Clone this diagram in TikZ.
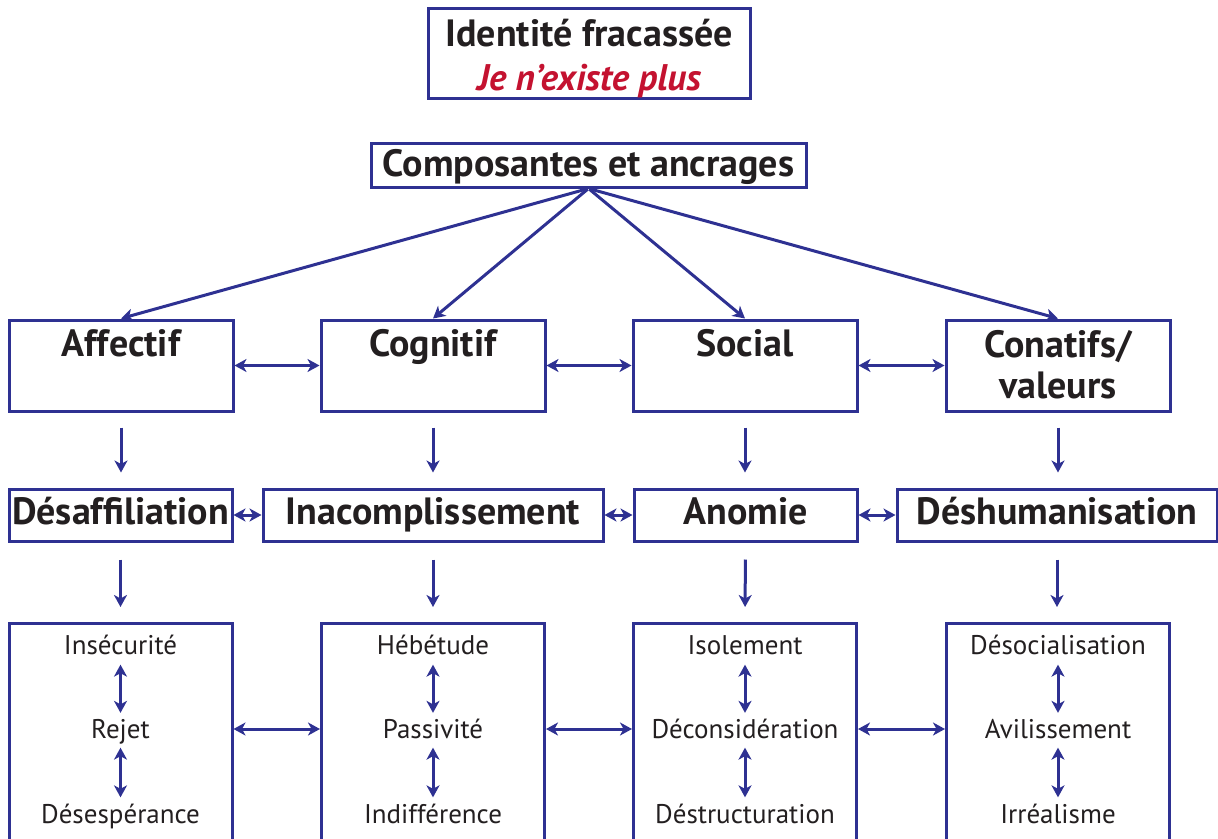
\documentclass[tikz,border=0pt]{standalone}
\usepackage{fontspec}
\setmainfont{PT Sans}
\usetikzlibrary{arrows.meta}
\definecolor{lineblue}{HTML}{2E3192}
\definecolor{ink}{HTML}{231F20}
\definecolor{accentred}{HTML}{C41230}
\tikzset{
  box/.style={draw=lineblue, line width=3pt, rectangle, inner sep=0pt, fill=white},
  % node centres sit on the middle of the capitals
  head/.style={font=\fontsize{38}{43}\selectfont\bfseries, text=ink, inner sep=0pt, text height=26.6pt, text depth=0pt},
  item/.style={font=\fontsize{27}{30}\selectfont, text=ink, inner sep=0pt, text height=18.9pt, text depth=0pt},
  tip/.style={Stealth[length=12pt, width=13pt, inset=3.5pt]},
  link/.style={draw=lineblue, line width=3pt, -{Stealth[length=12pt, width=13pt, inset=3.5pt]}},
  duo/.style={draw=lineblue, line width=3pt, {Stealth[length=12pt, width=13pt, inset=3.5pt]}-{Stealth[length=12pt, width=13pt, inset=3.5pt]}},
}
\begin{document}
\begin{tikzpicture}[x=1pt, y=-1pt]
\useasboundingbox (0,0) rectangle (1218,838);
\clip (0,0) rectangle (1218,838);

% title
\node[box, minimum width=322pt, minimum height=90pt] (title) at (589,53) {};
\node[head] (titleA) at (589,33) {Identité fracassée};
\node[font=\fontsize{37}{43}\selectfont\bfseries\itshape, text=accentred, inner sep=0pt, text height=25.9pt, text depth=0pt] (titleB) at (589,77.5) {Je n’existe plus};

% root
\node[box, minimum width=435pt, minimum height=44pt] (root) at (588.5,165) {};
\node[head] (rootT) at (588.5,163) {Composantes et ancrages};

% first row: components
\foreach \n/\x in {aff/121, cog/433, soc/745, con/1058}{
  \node[box, minimum width=224pt, minimum height=91pt] (\n) at (\x,365.5) {};
}
\node[head] (affT) at (121,343) {Affectif};
\node[head] (cogT) at (433,343) {Cognitif};
\node[head] (socT) at (745,343) {Social};
\node[head] (conT) at (1058,344) {Conatifs/};
\node[head] (conU) at (1058,384.7) {valeurs};

% second row
\node[box, minimum width=223pt, minimum height=52pt] (desa) at (120.5,515) {};
\node[box, minimum width=340pt, minimum height=52pt] (inac) at (433,515) {};
\node[box, minimum width=223pt, minimum height=52pt] (anom) at (745.5,515) {};
\node[box, minimum width=320pt, minimum height=52pt] (desh) at (1057,515) {};
\node[head] (desaT) at (120.5,511) {Désaffiliation};
\node[head] (inacT) at (433,511) {Inacomplissement};
\node[head] (anomT) at (745.5,511) {Anomie};
\node[head] (deshT) at (1057,511) {Déshumanisation};

% third row (boxes run past the lower edge)
\foreach \n/\x in {ba/120.5, bb/433, bc/745, bd/1058}{
  \node[box, minimum width=223pt, minimum height=300pt, anchor=north] (\n) at (\x,622) {};
}
\node[item] (a1) at (120.5,645) {Insécurité};
\node[item] (a2) at (120.5,729) {Rejet};
\node[item] (a3) at (120.5,814) {Désespérance};
\node[item] (b1) at (433,645) {Hébétude};
\node[item] (b2) at (433,729) {Passivité};
\node[item] (b3) at (433,814) {Indifférence};
\node[item] (c1) at (745,645) {Isolement};
\node[item] (c2) at (745,729) {Déconsidération};
\node[item] (c3) at (745,814) {Déstructuration};
\node[item] (d1) at (1058,645) {Désocialisation};
\node[item] (d2) at (1058,729) {Avilissement};
\node[item] (d3) at (1058,814) {Irréalisme};

% root to components
\foreach \n in {aff, cog, soc, con}{
  \draw[link, shorten <=1pt] (root.south) -- (\n.north);
}

% links between components
\draw[duo] (aff.east) -- (cog.west);
\draw[duo] (cog.east) -- (soc.west);
\draw[duo] (soc.east) -- (con.west);

% components to second row
\draw[link, shorten <=15pt, shorten >=15pt] (aff.south) -- (aff.south |- desa.north);
\draw[link, shorten <=15pt, shorten >=15pt] (cog.south) -- (inac.north);
\draw[link, shorten <=15pt, shorten >=15pt] (soc.south) -- (soc.south |- anom.north);
\draw[link, shorten <=15pt, shorten >=15pt] (con.south) -- (con.south |- desh.north);

\draw[duo] (desa.east) -- (inac.west);
\draw[duo] (inac.east) -- (anom.west);
\draw[duo] (anom.east) -- (desh.west);

% second row to third row
\draw[link, shorten <=17pt, shorten >=15pt] (desa.south) -- (ba.north);
\draw[link, shorten <=17pt, shorten >=15pt] (inac.south) -- (bb.north);
\draw[link, shorten <=17pt, shorten >=15pt] (anom.south) -- (bc.north);
\draw[link, shorten <=17pt, shorten >=15pt] (desh.south) -- (desh.south |- bd.north);

% inside the third-row boxes
\foreach \p in {a, b, c, d}{
  \draw[duo, shorten <=10pt, shorten >=6.5pt] (\p1.south) -- (\p2.north);
  \draw[duo, shorten <=9pt, shorten >=7pt] (\p2.south) -- (\p3.north);
}

% links between third-row boxes
\draw[duo] (ba.east |- a2) -- (bb.west |- a2);
\draw[duo] (bb.east |- b2) -- (bc.west |- b2);
\draw[duo] (bc.east |- c2) -- (bd.west |- c2);
\end{tikzpicture}
\end{document}
